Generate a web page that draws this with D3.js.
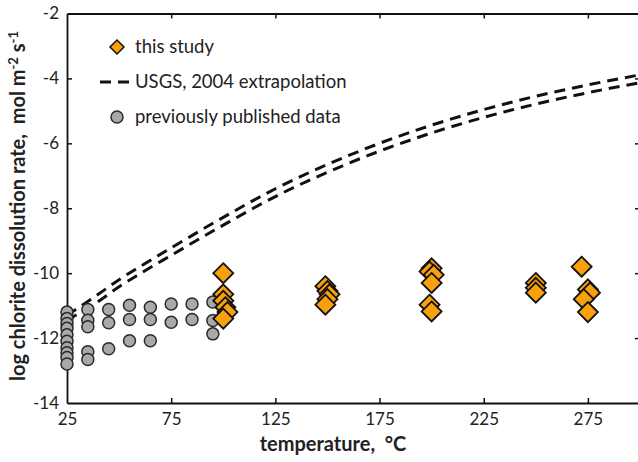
<!DOCTYPE html>
<html>
<head>
<meta charset="utf-8">
<script src="https://cdn.jsdelivr.net/npm/d3@7"></script>
<style>
  body { margin: 0; background: #fff; }
  svg text { font-family: Lato, "Open Sans", sans-serif; fill: #222; white-space: pre; }
</style>
</head>
<body>
<svg id="chart" width="638" height="462"></svg>
<script>
// tick labels
const xTicks = [25, 75, 125, 175, 225, 275];
const yTicks = [-2, -4, -6, -8, -10, -12, -14];

// USGS 2004 extrapolation (two dashed curves)
const usgsTemp  = [25, 40, 50, 60, 75, 100, 125, 150, 175, 200, 225, 250, 275, 300];
const usgsUpper = [-11.3, -10.65, -10.2, -9.8, -9.22, -8.28, -7.4, -6.65, -6.0, -5.44, -4.96, -4.55, -4.2, -3.89];
const usgsLower = [-11.45, -10.87, -10.42, -10.02, -9.45, -8.52, -7.64, -6.89, -6.24, -5.68, -5.2, -4.79, -4.44, -4.13];

// previously published data
const prevTemp = [25, 25, 25, 25, 25, 25, 25, 25, 25, 25,
  35, 35, 35, 35, 35, 45, 45, 45, 55, 55, 55, 65, 65, 65, 75, 75, 85, 85, 95, 95, 95];
const prevRate = [-11.2, -11.4, -11.55, -11.7, -11.9, -12.1, -12.3, -12.45, -12.6, -12.8,
  -11.12, -11.45, -11.65, -12.42, -12.66, -11.12, -11.53, -12.33, -10.99, -11.43, -12.08,
  -11.05, -11.43, -12.08, -10.95, -11.51, -10.95, -11.43, -10.89, -11.46, -11.87];

// this study
const studyTemp = [100, 100, 100, 101, 102, 100, 149, 150, 151, 150, 149,
  200, 199, 201, 200, 199, 200, 250, 250, 250, 272, 275, 276, 273, 275];
const studyRate = [-10.0, -10.65, -10.85, -11.05, -11.2, -11.4, -10.4, -10.55, -10.65, -10.8, -10.97,
  -9.85, -9.95, -10.05, -10.3, -10.97, -11.18, -10.3, -10.45, -10.6, -9.8, -10.5, -10.6, -10.8, -11.2];

const svg = d3.select("#chart");
const x = d3.scaleLinear().domain([25, 300]).range([67, 640]);
const y = d3.scaleLinear().domain([-14, -2]).range([403, 13.5]);

// frame
const frame = svg.append("g");
frame.append("g").attr("transform", "translate(0,403)")
  .call(d3.axisBottom(x).tickValues(xTicks).tickSizeInner(-5).tickSizeOuter(0).tickPadding(10));
frame.append("g").attr("transform", "translate(0,13.5)")
  .call(d3.axisTop(x).tickValues(xTicks).tickSizeInner(-5).tickSizeOuter(0).tickFormat(""));
frame.append("g").attr("transform", "translate(67,0)")
  .call(d3.axisLeft(y).tickValues(yTicks).tickSizeInner(-5).tickSizeOuter(0).tickPadding(8)
    .tickFormat(d => String(d)));
frame.append("g").attr("transform", "translate(640,0)")
  .call(d3.axisRight(y).tickValues(yTicks).tickSizeInner(-5).tickSizeOuter(0).tickFormat(""));
frame.selectAll(".domain").attr("stroke", "#111").attr("stroke-width", 1.8);
frame.selectAll(".tick line").attr("stroke", "#111").attr("stroke-width", 1.5);
frame.selectAll(".tick text").style("font-size", "17px").attr("fill", "#222");
// no tick marks on the corners
frame.selectAll(".tick line").filter(d => d === 25 || d === -14 || d === -2).remove();

// USGS curves
const line = d3.line().x(d => x(d[0])).y(d => y(d[1])).curve(d3.curveMonotoneX);
[usgsUpper, usgsLower].forEach(vals => {
  svg.append("path")
    .attr("d", line(usgsTemp.map((t, i) => [t, vals[i]])))
    .attr("fill", "none").attr("stroke", "#111")
    .attr("stroke-width", 3).attr("stroke-dasharray", "11,7");
});

// previously published
svg.append("g").selectAll("circle")
  .data(prevTemp.map((t, i) => [t, prevRate[i]]))
  .enter().append("circle")
  .attr("cx", d => x(d[0])).attr("cy", d => y(d[1])).attr("r", 6)
  .attr("fill", "#a9a9a9").attr("stroke", "#2a2a2a").attr("stroke-width", 1.5);

// this study
const diamond = "M0,-10L10,0L0,10L-10,0Z";
svg.append("g").selectAll("path")
  .data(studyTemp.map((t, i) => [t, studyRate[i]]))
  .enter().append("path")
  .attr("d", diamond)
  .attr("transform", d => `translate(${x(d[0])},${y(d[1])})`)
  .attr("fill", "#f9a00f").attr("stroke", "#111").attr("stroke-width", 1.8);

// legend
const lg = svg.append("g");
lg.append("path").attr("d", "M0,-7L7,0L0,7L-7,0Z").attr("transform", "translate(117,47)")
  .attr("fill", "#f9a00f").attr("stroke", "#111").attr("stroke-width", 1.5);
lg.append("line").attr("x1", 100).attr("x2", 134).attr("y1", 82).attr("y2", 82)
  .attr("stroke", "#111").attr("stroke-width", 3).attr("stroke-dasharray", "11,7");
lg.append("circle").attr("cx", 117).attr("cy", 117).attr("r", 6)
  .attr("fill", "#a9a9a9").attr("stroke", "#2a2a2a").attr("stroke-width", 1.5);
[["this study", 47], ["USGS, 2004 extrapolation", 82], ["previously published data", 117]].forEach(([t, ty]) => {
  lg.append("text").attr("x", 135).attr("y", ty).attr("dy", "0.35em")
    .style("font-size", "18.5px").text(t);
});

// axis titles
svg.append("text").attr("x", 333).attr("y", 451).attr("text-anchor", "middle")
  .style("font-size", "20px").style("font-weight", "bold").text("temperature,  °C");
const yt = svg.append("text").attr("transform", "translate(25,206) rotate(-90)")
  .attr("text-anchor", "middle").style("font-size", "20px").style("font-weight", "bold");
yt.append("tspan").text("log chlorite dissolution rate,  mol m");
yt.append("tspan").attr("dy", -7).style("font-size", "13px").text("-2");
yt.append("tspan").attr("dy", 7).text(" s");
yt.append("tspan").attr("dy", -7).style("font-size", "13px").text("-1");
</script>
</body>
</html>
